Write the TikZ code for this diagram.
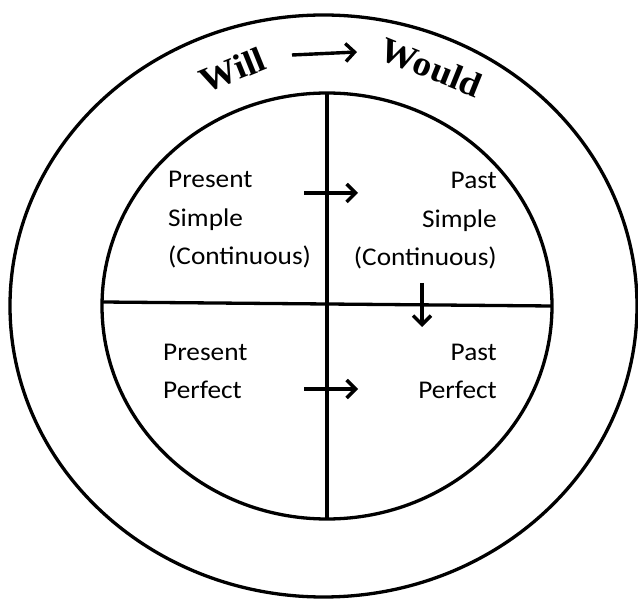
\documentclass[tikz,border=0pt]{standalone}
\usepackage{fontspec}
\setmainfont{Carlito}[FakeStretch=1.07]
\newfontfamily\titlefont{Liberation Serif}[FakeStretch=1.07]
\usetikzlibrary{arrows.meta,shapes.geometric}
\begin{document}
\begin{tikzpicture}[x=1pt,y=1pt,
  ring/.style={draw, ellipse, line width=3.3pt, inner sep=0pt, outer sep=0pt},
  rule/.style={line width=3.3pt},
  arr/.style={line width=3.4pt, -{Straight Barb[length=9pt,width=18pt,line width=3.4pt]}},
  lbl/.style={inner sep=0pt, font=\fontsize{25.5}{38.5}\selectfont},
  big/.style={inner sep=0pt, font=\titlefont\bfseries\fontsize{35}{35}\selectfont}]
\useasboundingbox (0,0) rectangle (638,603);
\node[ring, minimum width=627pt, minimum height=582pt] (outer) at (323.5,297) {};
\node[ring, minimum width=450pt, minimum height=426pt] (inner) at (327,297) {};
\draw[rule] (inner.north) -- (inner.south);
\draw[rule] ([yshift=4pt]inner.west) -- (inner.east);
% labels
\node[big, rotate=22] (will) at (232.5,533) {Will};
\node[big, rotate=-22] (would) at (431.5,535.5) {Would};
\node[lbl, anchor=base west, align=left] (ps) at (168,338) {Present\\Simple\\(Continuous)};
\node[lbl, anchor=base east, align=right] (pas) at (497,337) {Past\\Simple\\(Continuous)};
\node[lbl, anchor=base west, align=left] (pp) at (163,204) {Present\\Perfect};
\node[lbl, anchor=base east, align=right] (pap) at (497,204) {Past\\Perfect};
% arrows
\coordinate (t1) at (292,548); \coordinate (t2) at (357,551);
\coordinate (u1) at (304,410); \coordinate (u2) at (358,410);
\coordinate (l1) at (304,214); \coordinate (l2) at (358,214);
\coordinate (d1) at (422,320); \coordinate (d2) at (422,276);
\draw[arr] (t1) -- (t2);
\draw[arr] (u1) -- (u2);
\draw[arr] (l1) -- (l2);
\draw[arr] (d1) -- (d2);
\end{tikzpicture}
\end{document}
